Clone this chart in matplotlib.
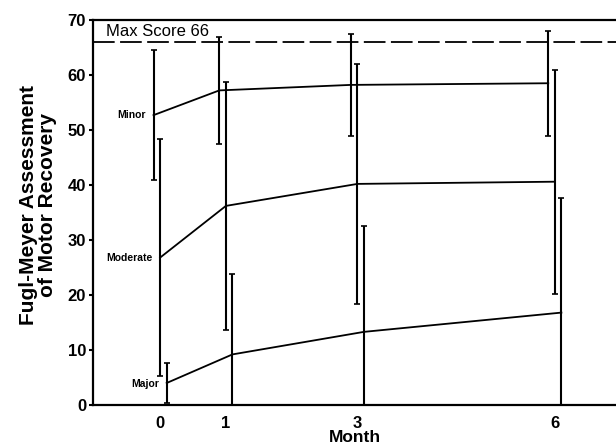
import matplotlib
matplotlib.use("Agg")
import matplotlib.pyplot as plt
import numpy as np

plt.rcParams["font.family"] = ["Liberation Sans", "DejaVu Sans"]

MONTHS = [0, 1, 3, 6]
MONTH_LABELS = ["0", "1", "3", "6"]
GROUPS = ["Minor", "Moderate", "Major"]
OFFSETS = [-0.1, 0.0, 0.1]

MINOR_MEAN = [52.7, 57.2, 58.2, 58.5]
MINOR_SD = [11.8, 9.8, 9.2, 9.5]
MODERATE_MEAN = [26.8, 36.2, 40.2, 40.6]
MODERATE_SD = [21.5, 22.5, 21.8, 20.4]
MAJOR_MEAN = [4.0, 9.2, 13.3, 16.8]
MAJOR_SD = [3.7, 14.7, 19.2, 20.9]

MAX_SCORE = 66

means = [MINOR_MEAN, MODERATE_MEAN, MAJOR_MEAN]
sds = [MINOR_SD, MODERATE_SD, MAJOR_SD]
label_y = [52.7, 26.8, 3.8]

fig = plt.figure(figsize=(6.16, 4.45), dpi=100)
ax = fig.add_axes([93 / 616, 40 / 445, 1 - 93 / 616, 385 / 445])

for name, off, m, s, ly in zip(GROUPS, OFFSETS, means, sds, label_y):
    m = np.array(m)
    s = np.array(s)
    x = np.array(MONTHS) + off
    lower = np.minimum(s, m)
    ax.errorbar(x, m, yerr=[lower, s], fmt="none", ecolor="black",
                elinewidth=1.5, capsize=2, capthick=1.2, clip_on=False)
    ax.plot(x, m, color="black", linewidth=1.3)
    ax.text(x[0] - 0.12, ly, name, ha="right", va="center",
            fontsize=7.5, fontweight="bold")

ax.axhline(MAX_SCORE, color="black", linewidth=1.3, dashes=(12, 3))
ax.text(-0.82, MAX_SCORE + 0.6, "Max Score 66", ha="left", va="bottom", fontsize=12)

ax.set_xlim(-1.02, 6.93)
ax.set_ylim(0, 70)
ax.set_xticks(MONTHS)
ax.set_xticklabels(MONTH_LABELS)
ax.set_yticks(np.arange(0, 71, 10))
for lab in ax.get_xticklabels() + ax.get_yticklabels():
    lab.set_fontweight("bold")
    lab.set_fontsize(12)
ax.tick_params(axis="y", direction="out", length=3, width=1.5, pad=2)
ax.tick_params(axis="x", direction="out", length=0, pad=8)

ax.spines["right"].set_visible(False)
for sp in ["left", "bottom", "top"]:
    ax.spines[sp].set_linewidth(1.6)

ax.set_xlabel("Month", fontsize=12.5, fontweight="bold", labelpad=-1)
ax.set_ylabel("Fugl-Meyer Assessment\nof Motor Recovery", fontsize=15,
              fontweight="bold", linespacing=1.05)
ax.yaxis.set_label_coords(-0.068, 0.52)

fig.savefig("out.png", dpi=100)
